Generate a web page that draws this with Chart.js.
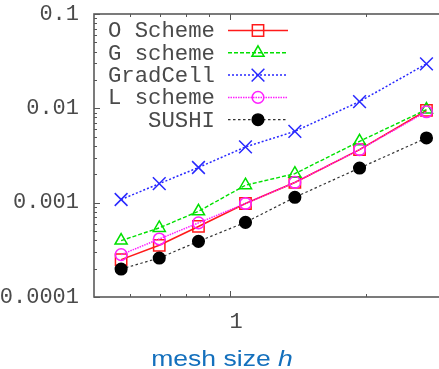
<!DOCTYPE html>
<html><head><meta charset="utf-8">
<script src="https://cdn.jsdelivr.net/npm/chart.js@4/dist/chart.umd.min.js"></script>
<style>
html,body{margin:0;padding:0;overflow:hidden;background:#fff;width:439px;height:369px}
#wrap{position:absolute;left:0;top:0;width:460px;height:369px}
#xt{position:absolute;left:0;width:445px;top:346px;line-height:26px;text-align:center;font-family:"Liberation Sans",Arial,sans-serif;font-size:22.5px;color:#1470bd;white-space:nowrap}
#xt span{display:inline-block;transform:scaleX(1.18);transform-origin:50% 50%}
</style></head>
<body>
<div id="wrap"><canvas id="c" width="460" height="369"></canvas></div>
<div id="xt"><span>mesh size <i>h</i></span></div>
<script>
// ---- data ----
const meshSizes = [0.574, 0.697, 0.851, 1.081, 1.39, 1.932, 2.716];
const seriesNames = ['O Scheme', 'G scheme', 'GradCell', 'L scheme', 'SUSHI'];
const oScheme  = [0.000249, 0.000353, 0.00056, 0.00098, 0.00164, 0.00365, 0.0095];
const gScheme  = [0.000396, 0.00054, 0.00081, 0.00153, 0.00203, 0.00447, 0.0097];
const gradCell = [0.00108, 0.00159, 0.00236, 0.0039, 0.0057, 0.0118, 0.0296];
const lScheme  = [0.000281, 0.000412, 0.00061, 0.00098, 0.00164, 0.00365, 0.0092];
const sushi    = [0.000198, 0.000259, 0.000389, 0.000618, 0.00114, 0.00233, 0.00485];
const yTickValues = [0.0001, 0.001, 0.01, 0.1];
const yTickLabels = ['0.0001', '0.001', '0.01', '0.1'];
const xTickValues = [1];
const xTickLabels = ['1'];
const xMinorTicks = [0.6, 0.7, 0.8, 0.9, 2];

const pts = arr => arr.map((v, i) => ({x: meshSizes[i], y: v}));
const styles = [
  {color:'#ff1a1a', dash:[], style:'rect', r:8, fill:'rgba(0,0,0,0)', lw:1.6, order:5},
  {color:'#00e000', dash:[4,2], style:'triangle', r:7, fill:'rgba(0,0,0,0)', lw:1.4, order:4},
  {color:'#2828ff', dash:[2,2], style:'crossRot', r:9, fill:'rgba(0,0,0,0)', lw:1.5, order:3},
  {color:'#ff20ff', dash:[1.5,1], style:'circle', r:5.8, fill:'rgba(0,0,0,0)', lw:1.5, order:2},
  {color:'#000000', dash:[2.5,2.5], style:'circle', r:5.8, fill:'#000000', lw:1.2, order:1, line:'#333'}
];
const allData = [oScheme, gScheme, gradCell, lScheme, sushi];
const datasets = allData.map((d, i) => {
  const s = styles[i];
  return {
    label: seriesNames[i], data: pts(d), order: s.order,
    borderColor: s.line || s.color, borderWidth: s.lw, borderDash: s.dash,
    pointStyle: s.style, pointRadius: s.r, pointBorderColor: s.color,
    pointBackgroundColor: s.fill, pointBorderWidth: 1.5, fill: false, tension: 0
  };
});

const tickFont = {family: '"Liberation Mono", "Courier New", monospace', size: 22};
const textGray = '#4a4a4a';

const framePlugin = {
  id: 'frame',
  afterDraw(chart) {
    const {ctx, chartArea: a, scales: {x, y}} = chart;
    ctx.save();
    ctx.strokeStyle = '#555'; ctx.lineWidth = 1;
    for (let e = -4; e <= -1; e++) {
      for (let m = 1; m <= 9; m++) {
        const v = m * Math.pow(10, e);
        if (v > 0.1 * 1.0001) break;
        const py = Math.round(y.getPixelForValue(v)) + 0.5;
        const len = m === 1 ? 6 : 3;
        ctx.beginPath();
        ctx.moveTo(a.left, py); ctx.lineTo(a.left + len, py);
        ctx.moveTo(a.right, py); ctx.lineTo(a.right - len, py);
        ctx.stroke();
      }
    }
    const xt = xTickValues.map(v => [v, 6]).concat(xMinorTicks.map(v => [v, 3]));
    xt.forEach(([v, len]) => {
      const px = Math.round(x.getPixelForValue(v)) + 0.5;
      ctx.beginPath();
      ctx.moveTo(px, a.bottom); ctx.lineTo(px, a.bottom - len);
      ctx.moveTo(px, a.top); ctx.lineTo(px, a.top + len);
      ctx.stroke();
    });
    ctx.strokeStyle = '#5a5a5a'; ctx.lineWidth = 1.6;
    ctx.strokeRect(a.left, a.top, a.right - a.left, a.bottom - a.top);
    // legend (gnuplot style)
    ctx.font = '22.3px "Liberation Mono", "Courier New", monospace';
    ctx.textAlign = 'right'; ctx.textBaseline = 'middle';
    const tx = a.left + 121, l0 = a.left + 134, l1 = a.left + 194, mx = a.left + 164;
    chart.data.datasets.forEach((ds, i) => {
      const yy = a.top + 16.5 + i * 22.3;
      ctx.fillStyle = textGray;
      ctx.fillText(ds.label, tx, yy + 1);
      ctx.save();
      ctx.strokeStyle = ds.borderColor; ctx.lineWidth = ds.borderWidth;
      ctx.setLineDash(ds.borderDash);
      ctx.beginPath(); ctx.moveTo(l0, yy); ctx.lineTo(l1, yy); ctx.stroke();
      ctx.setLineDash([]);
      ctx.strokeStyle = ds.pointBorderColor; ctx.fillStyle = ds.pointBackgroundColor;
      ctx.lineWidth = ds.pointBorderWidth;
      Chart.helpers.drawPoint(ctx, {pointStyle: ds.pointStyle, radius: ds.pointRadius, rotation: 0, borderWidth: ds.pointBorderWidth}, mx, yy);
      ctx.restore();
    });
    ctx.restore();
  }
};

new Chart(document.getElementById('c'), {
  type: 'line',
  data: {datasets},
  options: {
    responsive: false, animation: false, devicePixelRatio: 1,
    layout: {padding: {top: 14, right: 14, left: 0, bottom: 0}},
    plugins: {legend: {display: false}, tooltip: {enabled: false}},
    scales: {
      x: {
        type: 'logarithmic', min: 0.5, max: 3,
        afterBuildTicks: s => { s.ticks = xTickValues.map(v => ({value: v})); },
        afterFit: s => { s.height = 72; s.paddingLeft = 0; s.paddingRight = 0; },
        grid: {display: false, drawTicks: false},
        border: {display: false},
        ticks: {font: tickFont, color: textGray, padding: 12, labelOffset: 6,
          maxRotation: 0, autoSkip: false,
          callback: (v) => { const i = xTickValues.indexOf(v); return i >= 0 ? xTickLabels[i] : ''; }}
      },
      y: {
        type: 'logarithmic', min: 0.0001, max: 0.1,
        afterBuildTicks: s => { s.ticks = yTickValues.map(v => ({value: v})); },
        afterFit: s => { s.width = 94; s.paddingTop = 0; s.paddingBottom = 0; },
        grid: {display: false, drawTicks: false},
        border: {display: false},
        ticks: {font: tickFont, color: textGray, padding: 15, autoSkip: false,
          callback: (v) => { const i = yTickValues.findIndex(t => Math.abs(t - v) / t < 1e-6); return i >= 0 ? yTickLabels[i] : ''; }}
      }
    }
  },
  plugins: [framePlugin]
});
</script>
</body></html>
